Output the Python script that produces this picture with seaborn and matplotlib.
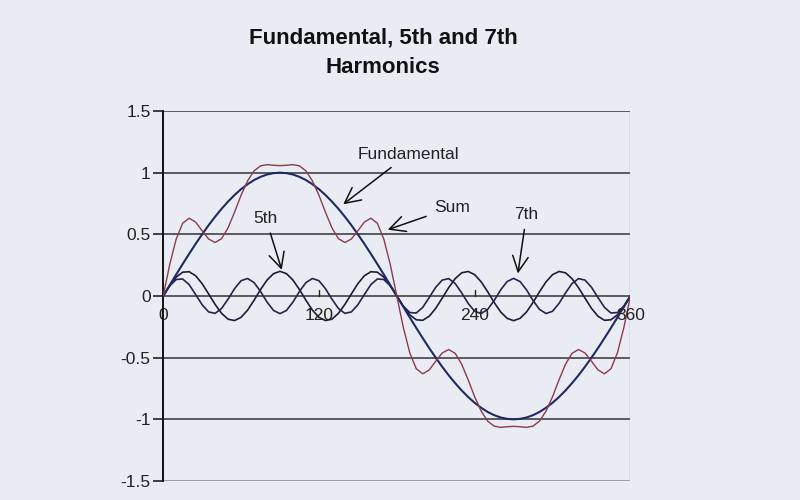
import matplotlib
matplotlib.use("Agg")
import matplotlib.pyplot as plt
import seaborn as sns
import pandas as pd

# ---- data (5-degree steps) ----
angles = list(range(0, 361, 5))

fundamental = [
    0.000, 0.087, 0.174, 0.259, 0.342, 0.423, 0.500, 0.574, 0.643, 0.707, 0.766, 0.819, 0.866, 0.906, 0.940, 0.966, 0.985, 0.996, 1.000,
    0.996, 0.985, 0.966, 0.940, 0.906, 0.866, 0.819, 0.766, 0.707, 0.643, 0.574, 0.500, 0.423, 0.342, 0.259, 0.174, 0.087, 0.000,
    -0.087, -0.174, -0.259, -0.342, -0.423, -0.500, -0.574, -0.643, -0.707, -0.766, -0.819, -0.866, -0.906, -0.940, -0.966, -0.985, -0.996, -1.000,
    -0.996, -0.985, -0.966, -0.940, -0.906, -0.866, -0.819, -0.766, -0.707, -0.643, -0.574, -0.500, -0.423, -0.342, -0.259, -0.174, -0.087, 0.000,
]

fifth = [
    0.000, 0.085, 0.153, 0.193, 0.197, 0.164, 0.100, 0.017, -0.068, -0.141, -0.188, -0.199, -0.173, -0.115, -0.035, 0.052, 0.129, 0.181, 0.200,
    0.181, 0.129, 0.052, -0.035, -0.115, -0.173, -0.199, -0.188, -0.141, -0.068, 0.017, 0.100, 0.164, 0.197, 0.193, 0.153, 0.085, 0.000,
    -0.085, -0.153, -0.193, -0.197, -0.164, -0.100, -0.017, 0.068, 0.141, 0.188, 0.199, 0.173, 0.115, 0.035, -0.052, -0.129, -0.181, -0.200,
    -0.181, -0.129, -0.052, 0.035, 0.115, 0.173, 0.199, 0.188, 0.141, 0.068, -0.017, -0.100, -0.164, -0.197, -0.193, -0.153, -0.085, 0.000,
]

seventh = [
    0.000, 0.082, 0.134, 0.138, 0.092, 0.012, -0.071, -0.129, -0.141, -0.101, -0.025, 0.060, 0.124, 0.142, 0.109, 0.037, -0.049, -0.117, -0.143,
    -0.117, -0.049, 0.037, 0.109, 0.142, 0.124, 0.060, -0.025, -0.101, -0.141, -0.129, -0.071, 0.012, 0.092, 0.138, 0.134, 0.082, 0.000,
    -0.082, -0.134, -0.138, -0.092, -0.012, 0.071, 0.129, 0.141, 0.101, 0.025, -0.060, -0.124, -0.142, -0.109, -0.037, 0.049, 0.117, 0.143,
    0.117, 0.049, -0.037, -0.109, -0.142, -0.124, -0.060, 0.025, 0.101, 0.141, 0.129, 0.071, -0.012, -0.092, -0.138, -0.134, -0.082, 0.000,
]

total = [
    0.000, 0.254, 0.461, 0.590, 0.631, 0.599, 0.529, 0.462, 0.434, 0.465, 0.553, 0.680, 0.817, 0.933, 1.014, 1.055, 1.065, 1.060, 1.057,
    1.060, 1.065, 1.055, 1.014, 0.933, 0.817, 0.680, 0.553, 0.465, 0.434, 0.462, 0.529, 0.599, 0.631, 0.590, 0.461, 0.254, 0.000,
    -0.254, -0.461, -0.590, -0.631, -0.599, -0.529, -0.462, -0.434, -0.465, -0.553, -0.680, -0.817, -0.933, -1.014, -1.055, -1.065, -1.060, -1.057,
    -1.060, -1.065, -1.055, -1.014, -0.933, -0.817, -0.680, -0.553, -0.465, -0.434, -0.462, -0.529, -0.599, -0.631, -0.590, -0.461, -0.254, 0.000,
]

x_ticks = [0, 120, 240, 360]
y_ticks = [1.5, 1, 0.5, 0, -0.5, -1, -1.5]
y_tick_labels = ["1.5", "1", "0.5", "0", "-0.5", "-1", "-1.5"]
title = "Fundamental, 5th and 7th\nHarmonics"

# ---- styling ----
sns.set_theme(style="white")
plt.rcParams["font.family"] = ["Liberation Sans", "DejaVu Sans"]

BG = "#e9edf3"
fig = plt.figure(figsize=(8, 5), dpi=100, facecolor=BG)
ax = fig.add_axes([0.204, 0.038, 0.584, 0.740])
ax.set_facecolor(BG)

df = pd.DataFrame({
    "angle": angles * 4,
    "value": fundamental + fifth + seventh + total,
    "series": (["Fundamental"] * len(angles) + ["5th"] * len(angles)
               + ["7th"] * len(angles) + ["Sum"] * len(angles)),
})
palette = {"Fundamental": "#1f2a63", "5th": "#1b1d3a", "7th": "#23264a", "Sum": "#8c3a4c"}
widths = {"Fundamental": 1.5, "5th": 1.2, "7th": 1.2, "Sum": 1.0}

# gridlines
for yv in y_ticks:
    ax.axhline(yv, color="#333333" if yv != -1.5 else "#888888", lw=1.1, zorder=1)
ax.axvline(360, color="#9a9a9a", lw=1.0, zorder=1)

for name in ["5th", "7th", "Fundamental", "Sum"]:
    sub = df[df["series"] == name]
    sns.lineplot(data=sub, x="angle", y="value", color=palette[name],
                 lw=widths[name], ax=ax, sort=False, estimator=None,
                 legend=False, zorder=3)

ax.set_xlim(0, 360)
ax.set_ylim(-1.5, 1.5)
ax.set_xlabel("")
ax.set_ylabel("")

for s in ["top", "right", "bottom"]:
    ax.spines[s].set_visible(False)
ax.spines["left"].set_color("#111111")
ax.spines["left"].set_linewidth(1.4)

ax.set_yticks(y_ticks)
ax.set_yticklabels(y_tick_labels, fontsize=12.5, color="#222222")
ax.tick_params(axis="y", direction="out", length=7, width=1.1, color="#111111", pad=2, left=True)

ax.set_xticks([])
for xv in x_ticks:
    ax.text(xv, -0.10, str(xv), ha="center", va="top", fontsize=12.5, color="#222222", zorder=5)
for xv in [120, 240]:
    ax.plot([xv, xv], [0, 0.05], color="#222222", lw=1.0, zorder=2)

fig.text(0.479, 0.895, title, ha="center", va="center", fontsize=16,
         fontweight="bold", color="#111111", linespacing=1.55)

arrow = dict(arrowstyle="->", color="#111111", lw=1.1, mutation_scale=28)
ax.annotate("Fundamental", xy=(137, 0.73), xytext=(189, 1.15),
            ha="center", va="center", fontsize=12.5, color="#222222",
            arrowprops=dict(arrow, shrinkA=3))
ax.annotate("Sum", xy=(171, 0.53), xytext=(223, 0.72),
            ha="center", va="center", fontsize=12.5, color="#222222",
            arrowprops=dict(arrow, shrinkA=4))
ax.annotate("5th", xy=(92, 0.19), xytext=(79, 0.63),
            ha="center", va="center", fontsize=12.5, color="#222222",
            arrowprops=dict(arrow, shrinkA=3))
ax.annotate("7th", xy=(273, 0.16), xytext=(280, 0.66),
            ha="center", va="center", fontsize=12.5, color="#222222",
            arrowprops=dict(arrow, shrinkA=3))

fig.savefig("out.png", dpi=100, facecolor=BG)
